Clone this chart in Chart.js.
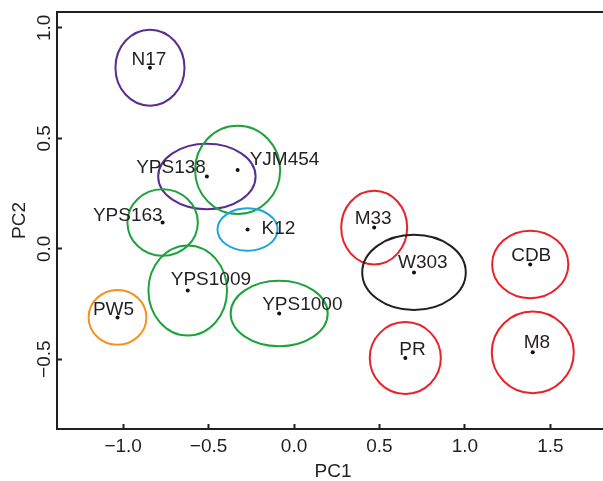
<!DOCTYPE html>
<html>
<head>
<meta charset="utf-8">
<script src="https://cdn.jsdelivr.net/npm/chart.js@4.4.1/dist/chart.umd.min.js"></script>
<style>
  html, body { margin: 0; padding: 0; background: #fff; overflow: hidden; }
  #pca { display: block; }
</style>
</head>
<body>
<canvas id="pca" width="613" height="481"></canvas>
<script>
// Strain scores on the first two principal components
const strains = ['N17', 'YPS138', 'YJM454', 'YPS163', 'K12', 'YPS1009', 'PW5',
                 'YPS1000', 'M33', 'W303', 'CDB', 'PR', 'M8'];
const pc1 = [-0.843, -0.510, -0.330, -0.769, -0.272, -0.622, -1.033,
             -0.087, 0.469, 0.702, 1.382, 0.651, 1.397];
const pc2 = [0.820, 0.327, 0.357, 0.119, 0.087, -0.189, -0.311,
             -0.293, 0.096, -0.107, -0.071, -0.495, -0.469];
// ellipse half-widths (PC1 units) and half-heights (PC2 units)
const spreadPC1 = [0.202, 0.285, 0.249, 0.206, 0.176, 0.230, 0.169,
                   0.284, 0.193, 0.303, 0.223, 0.208, 0.240];
const spreadPC2 = [0.172, 0.148, 0.200, 0.151, 0.096, 0.204, 0.124,
                   0.148, 0.167, 0.170, 0.153, 0.163, 0.185];
const xTicks = [-1.0, -0.5, 0.0, 0.5, 1.0, 1.5];
const yTicks = [-0.5, 0.0, 0.5, 1.0];

// styling, kept apart from the data
const ringColors = ['#5b2d91', '#5b2d91', '#1ea23c', '#1ea23c', '#1ba6de', '#1ea23c', '#f7901e',
                    '#1ea23c', '#e8222a', '#231f20', '#e8222a', '#e8222a', '#e8222a'];
// [textAlign, dx, dy] of each name relative to its dot (px)
const labelPlace = [
  ['center', -1, -3], ['right', -1, -4], ['left', 12, -5], ['right', 0, -1],
  ['left', 14, 4], ['left', -17, -6], ['center', -4, -2], ['left', -17, -3],
  ['center', -1, -4], ['left', -16, -4], ['center', 1, -3], ['left', -6, -3],
  ['left', -9, -4]
];

const ink = '#231f20';
const fontFam = '"Liberation Sans", Arial, Helvetica, sans-serif';

function fmt(v) {
  return (v < 0 ? '\u2212' : '') + Math.abs(v).toFixed(1);
}

// ellipses behind the dots, names on top
const ringsPlugin = {
  id: 'rings',
  beforeDatasetsDraw(chart) {
    const { ctx, scales: { x, y } } = chart;
    ctx.save();
    ctx.lineWidth = 2;
    strains.forEach((s, i) => {
      const cx = x.getPixelForValue(pc1[i]);
      const cy = y.getPixelForValue(pc2[i]);
      const rx = Math.abs(x.getPixelForValue(pc1[i] + spreadPC1[i]) - cx);
      const ry = Math.abs(y.getPixelForValue(pc2[i] + spreadPC2[i]) - cy);
      ctx.strokeStyle = ringColors[i];
      ctx.beginPath();
      ctx.ellipse(cx, cy, rx, ry, 0, 0, Math.PI * 2);
      ctx.stroke();
    });
    ctx.restore();
  },
  afterDatasetsDraw(chart) {
    const { ctx, scales: { x, y } } = chart;
    ctx.save();
    ctx.fillStyle = ink;
    ctx.font = '19px ' + fontFam;
    ctx.textBaseline = 'alphabetic';
    strains.forEach((s, i) => {
      const p = labelPlace[i];
      ctx.textAlign = p[0];
      ctx.fillText(s, x.getPixelForValue(pc1[i]) + p[1], y.getPixelForValue(pc2[i]) + p[2]);
    });
    ctx.restore();
  },
  afterDraw(chart) {
    // vertical tick labels of the PC2 axis
    const { ctx, scales: { y } } = chart;
    ctx.save();
    ctx.fillStyle = ink;
    ctx.font = '19px ' + fontFam;
    ctx.textAlign = 'center';
    ctx.textBaseline = 'middle';
    y.ticks.forEach(t => {
      ctx.save();
      ctx.translate(45, y.getPixelForValue(t.value));
      ctx.rotate(-Math.PI / 2);
      ctx.fillText(fmt(t.value), 0, 0);
      ctx.restore();
    });
    ctx.restore();
  }
};

const ctx = document.getElementById('pca').getContext('2d');
const pcaChart = new Chart(ctx, {
  type: 'scatter',
  data: {
    datasets: [{
      data: pc1.map((v, i) => ({ x: v, y: pc2[i] })),
      pointRadius: 2,
      pointBorderWidth: 0,
      backgroundColor: '#111',
      borderColor: '#111'
    }]
  },
  options: {
    responsive: false,
    animation: false,
    layout: { padding: { top: 12, right: 0, left: 0, bottom: 0 } },
    plugins: { legend: { display: false }, tooltip: { enabled: false } },
    scales: {
      x: {
        type: 'linear',
        min: -1.387,
        max: 1.843,
        afterBuildTicks: s => { s.ticks = xTicks.map(v => ({ value: v })); },
        afterFit: s => { s.height = 52; },
        grid: { drawOnChartArea: false, tickLength: -5, tickWidth: 2, tickColor: ink },
        border: { display: true, color: ink, width: 2 },
        ticks: {
          color: ink,
          font: { family: fontFam, size: 19 },
          padding: 11,
          maxRotation: 0,
          callback: v => fmt(v)
        },
        title: {
          display: true,
          text: 'PC1',
          color: ink,
          font: { family: fontFam, size: 19, lineHeight: 1 },
          padding: { top: 0, bottom: 0 }
        }
      },
      xTop: {
        type: 'linear',
        position: 'top',
        min: -1.387,
        max: 1.843,
        afterFit: s => { s.height = 0; },
        grid: { display: false },
        border: { display: true, color: ink, width: 2 },
        ticks: { display: false }
      },
      y: {
        type: 'linear',
        min: -0.816,
        max: 1.072,
        afterBuildTicks: s => { s.ticks = yTicks.map(v => ({ value: v })); },
        afterFit: s => { s.width = 57; },
        grid: { drawOnChartArea: false, tickLength: -5, tickWidth: 2, tickColor: ink },
        border: { display: true, color: ink, width: 2 },
        ticks: { display: false },
        title: {
          display: true,
          text: 'PC2',
          color: ink,
          font: { family: fontFam, size: 19, lineHeight: 1 },
          padding: { top: 10, bottom: 0 }
        }
      }
    }
  },
  plugins: [ringsPlugin]
});
</script>
</body>
</html>
